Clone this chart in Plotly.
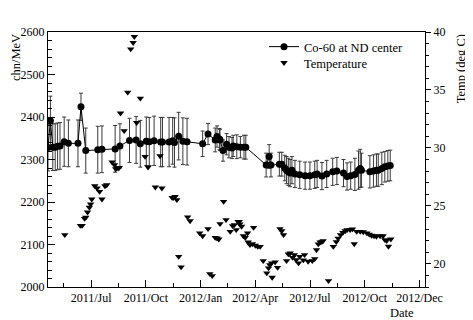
import pandas as pd
import plotly.graph_objects as go

# Co-60 peak position at ND center (left axis)
co_dates = ["2011-04-20", "2011-04-24", "2011-04-28", "2011-05-02", "2011-05-06", "2011-05-10",
            "2011-05-17", "2011-05-24", "2011-06-09", "2011-06-14", "2011-06-22", "2011-07-12",
            "2011-07-19", "2011-08-10", "2011-08-18", "2011-09-03", "2011-09-14", "2011-09-21",
            "2011-10-01", "2011-10-06", "2011-10-14", "2011-10-25", "2011-10-28", "2011-11-08",
            "2011-11-14", "2011-11-17", "2011-11-24", "2011-12-01", "2011-12-08", "2012-01-03",
            "2012-01-12", "2012-01-24", "2012-01-27", "2012-01-31", "2012-02-01", "2012-02-06",
            "2012-02-12", "2012-02-16", "2012-02-21", "2012-02-23", "2012-02-29", "2012-03-06",
            "2012-03-12", "2012-03-15", "2012-04-18", "2012-04-23", "2012-04-26", "2012-05-10",
            "2012-05-14", "2012-05-19", "2012-05-22", "2012-05-25", "2012-05-28", "2012-05-31",
            "2012-06-05", "2012-06-13", "2012-06-22", "2012-06-30", "2012-07-08", "2012-07-12",
            "2012-07-20", "2012-07-28", "2012-08-07", "2012-08-14", "2012-08-25", "2012-08-31",
            "2012-09-06", "2012-09-13", "2012-09-19", "2012-09-22", "2012-09-24", "2012-10-08",
            "2012-10-14", "2012-10-19", "2012-10-22", "2012-10-28", "2012-11-02", "2012-11-07",
            "2012-11-11"]
co_values = [2328, 2391, 2329, 2329, 2331, 2332, 2342, 2338, 2338, 2424, 2321, 2323,
             2324, 2325, 2332, 2345, 2346, 2337, 2343, 2342, 2344, 2341, 2341, 2341,
             2344, 2340, 2355, 2343, 2342, 2337, 2360, 2346, 2354, 2348, 2346, 2321,
             2336, 2329, 2327, 2332, 2330, 2329, 2329, 2329, 2287, 2307, 2287, 2289,
             2289, 2280, 2275, 2271, 2268, 2275, 2266, 2264, 2262, 2262, 2264, 2266,
             2261, 2266, 2271, 2273, 2268, 2260, 2262, 2265, 2275, 2279, 2275, 2271,
             2273, 2275, 2275, 2279, 2283, 2285, 2286]
co_errors = [55, 58, 55, 55, 55, 55, 58, 55, 55, 32, 53, 55,
             55, 55, 52, 52, 55, 55, 57, 57, 58, 58, 58, 58,
             55, 58, 56, 55, 55, 30, 25, 28, 25, 25, 25, 25,
             25, 25, 25, 25, 28, 25, 28, 28, 28, 28, 28, 28,
             28, 30, 32, 32, 32, 32, 32, 32, 32, 32, 32, 32,
             32, 32, 32, 32, 32, 32, 32, 38, 45, 45, 40, 38,
             38, 38, 38, 38, 36, 36, 36]

# Hall temperature (right axis)
temp_dates = ["2011-05-18", "2011-06-13", "2011-06-16", "2011-06-20", "2011-06-22", "2011-06-25",
              "2011-06-28", "2011-06-30", "2011-07-02", "2011-07-07", "2011-07-11", "2011-07-15",
              "2011-07-19", "2011-07-24", "2011-07-27", "2011-08-05", "2011-08-09", "2011-08-11",
              "2011-08-15", "2011-08-17", "2011-08-19", "2011-08-25", "2011-08-31", "2011-09-05",
              "2011-09-09", "2011-09-11", "2011-09-15", "2011-09-21", "2011-09-29", "2011-10-04",
              "2011-10-16", "2011-10-24", "2011-10-27", "2011-11-13", "2011-11-15", "2011-11-18",
              "2011-11-21", "2011-11-24", "2011-11-28", "2011-12-09", "2011-12-13", "2011-12-29",
              "2012-01-03", "2012-01-12", "2012-01-15", "2012-01-19", "2012-01-24", "2012-01-27",
              "2012-01-30", "2012-02-01", "2012-02-07", "2012-02-11", "2012-02-18", "2012-02-22",
              "2012-02-25", "2012-02-28", "2012-03-02", "2012-03-04", "2012-03-05", "2012-03-08",
              "2012-03-11", "2012-03-14", "2012-03-18", "2012-03-19", "2012-03-22", "2012-03-26",
              "2012-03-28", "2012-03-31", "2012-04-04", "2012-04-08", "2012-04-13", "2012-04-19",
              "2012-04-22", "2012-04-24", "2012-04-27", "2012-04-28", "2012-05-03", "2012-05-07",
              "2012-05-11", "2012-05-14", "2012-05-17", "2012-05-22", "2012-05-25", "2012-05-28",
              "2012-06-01", "2012-06-04", "2012-06-07", "2012-06-11", "2012-06-13", "2012-06-19",
              "2012-06-21", "2012-06-27", "2012-07-04", "2012-07-08", "2012-07-11", "2012-07-14",
              "2012-07-17", "2012-07-20", "2012-07-22", "2012-07-31", "2012-08-08", "2012-08-13",
              "2012-08-16", "2012-08-20", "2012-08-24", "2012-08-28", "2012-08-31", "2012-09-05",
              "2012-09-09", "2012-09-12", "2012-09-16", "2012-09-22", "2012-09-27", "2012-10-03",
              "2012-10-07", "2012-10-11", "2012-10-15", "2012-10-19", "2012-10-25", "2012-10-30",
              "2012-11-02", "2012-11-05", "2012-11-08", "2012-11-12"]
temp_values = [22.5, 23.3, 23.3, 23.9, 24.0, 24.45,
               24.86, 25.15, 25.58, 26.72, 26.53, 26.23,
               25.58, 26.72, 26.8, 28.77, 28.53, 28.19,
               28.25, 28.3, 33.0, 31.47, 34.8, 38.53,
               39.08, 39.6, 32.18, 34.28, 29.25, 28.34,
               26.61, 29.31, 26.53, 25.72, 25.7, 25.8,
               25.52, 20.63, 19.72, 24.03, 23.7, 22.65,
               22.41, 23.02, 19.14, 18.97, 22.27, 22.21,
               22.13, 23.45, 25.37, 23.8, 22.78, 23.28,
               23.36, 22.93, 23.65, 23.65, 23.42, 23.22,
               22.41, 22.27, 22.65, 21.87, 21.64, 21.72,
               23.13, 21.58, 21.49, 21.49, 20.26, 19.2,
               19.63, 19.91, 20.06, 18.82, 20.15, 19.68,
               23.02, 22.84, 22.5, 20.26, 20.84, 20.92,
               20.54, 20.78, 20.34, 20.06, 20.63, 20.32,
               20.78, 20.2, 20.26, 20.43, 21.2, 21.7,
               21.87, 21.9, 21.98, 18.53, 21.49, 21.9,
               22.2, 22.5, 22.7, 22.84, 22.93, 22.93,
               23.0, 21.72, 22.78, 22.78, 22.75, 22.65,
               22.55, 22.45, 22.4, 22.36, 22.4, 22.4,
               22.07, 22.0, 21.5, 22.13]

tick_labels = ["2011/Jul", "2011/Oct", "2012/Jan", "2012/Apr", "2012/Jul", "2012/Oct", "2012/Dec"]

# time axis divisions are equal steps of ~91.3 days, like the original
start = pd.Timestamp("2011-07-01")
step = pd.Timedelta(days=91.3)
tick_vals = [str(start + k * step) for k in range(len(tick_labels))]
minor_vals = [str(start + (k - 0.5) * step) for k in range(len(tick_labels))]

FONT = "Liberation Serif, Times New Roman, serif"

fig = go.Figure()
fig.add_trace(go.Scatter(
    x=co_dates, y=co_values, name="Co-60 at ND center",
    mode="lines+markers", legend="legend",
    line=dict(color="black", width=1),
    marker=dict(symbol="circle", size=7, color="black"),
    error_y=dict(type="data", array=co_errors, color="#3a3a3a", thickness=1, width=2),
))
fig.add_trace(go.Scatter(
    x=temp_dates, y=temp_values, name="Temperature", yaxis="y2",
    mode="markers", legend="legend2",
    marker=dict(symbol="triangle-down", size=6.5, color="black"),
))

# page body has an 8px margin, so the figure is a bit smaller than the window
fig.update_layout(
    width=465, height=312,
    margin=dict(l=40, r=48, t=24, b=33),
    paper_bgcolor="white", plot_bgcolor="white",
    font=dict(family=FONT, size=12, color="black"),
    showlegend=True,
    legend=dict(x=0.573, y=1.0, xanchor="left", yanchor="top",
                bgcolor="rgba(0,0,0,0)", font=dict(size=12.5)),
    legend2=dict(x=0.573, y=0.937, xanchor="left", yanchor="top",
                 bgcolor="rgba(0,0,0,0)", font=dict(size=12.5)),
    xaxis=dict(
        type="date", range=["2011-04-20", "2013-01-08"],
        tickmode="array", tickvals=tick_vals, ticktext=tick_labels,
        ticks="inside", ticklen=7, tickcolor="black",
        minor=dict(tickmode="array", tickvals=minor_vals, ticks="inside", ticklen=4,
                   tickcolor="black"),
        showgrid=False, zeroline=False,
        showline=True, linecolor="black", linewidth=1, mirror=True,
        tickfont=dict(size=12),
    ),
    yaxis=dict(
        range=[2000, 2600], dtick=100, tick0=2000,
        ticks="inside", ticklen=7, tickcolor="black",
        minor=dict(dtick=20, ticks="inside", ticklen=4, tickcolor="black"),
        showgrid=False, zeroline=False,
        showline=True, linecolor="black", linewidth=1,
        tickfont=dict(size=12),
    ),
    yaxis2=dict(
        range=[18, 40], dtick=5, tick0=20, overlaying="y", side="right",
        ticks="outside", ticklen=5, tickcolor="black",
        minor=dict(dtick=1, ticks="outside", ticklen=3, tickcolor="black"),
        showgrid=False, zeroline=False,
        showline=True, linecolor="black", linewidth=1,
        tickfont=dict(size=12),
    ),
    annotations=[
        dict(text="chn/MeV", xref="paper", yref="paper", x=-0.086, y=1.0,
             xanchor="center", yanchor="top", textangle=-90, showarrow=False,
             font=dict(size=12.5)),
        dict(text="Temp (deg C)", xref="paper", yref="paper", x=1.095, y=1.0,
             xanchor="center", yanchor="top", textangle=-90, showarrow=False,
             font=dict(size=12.5)),
        dict(text="Date", xref="paper", yref="paper", x=0.975, y=-0.1,
             xanchor="right", yanchor="middle", showarrow=False,
             font=dict(size=12.5)),
    ],
)

fig.write_html("out.html")
